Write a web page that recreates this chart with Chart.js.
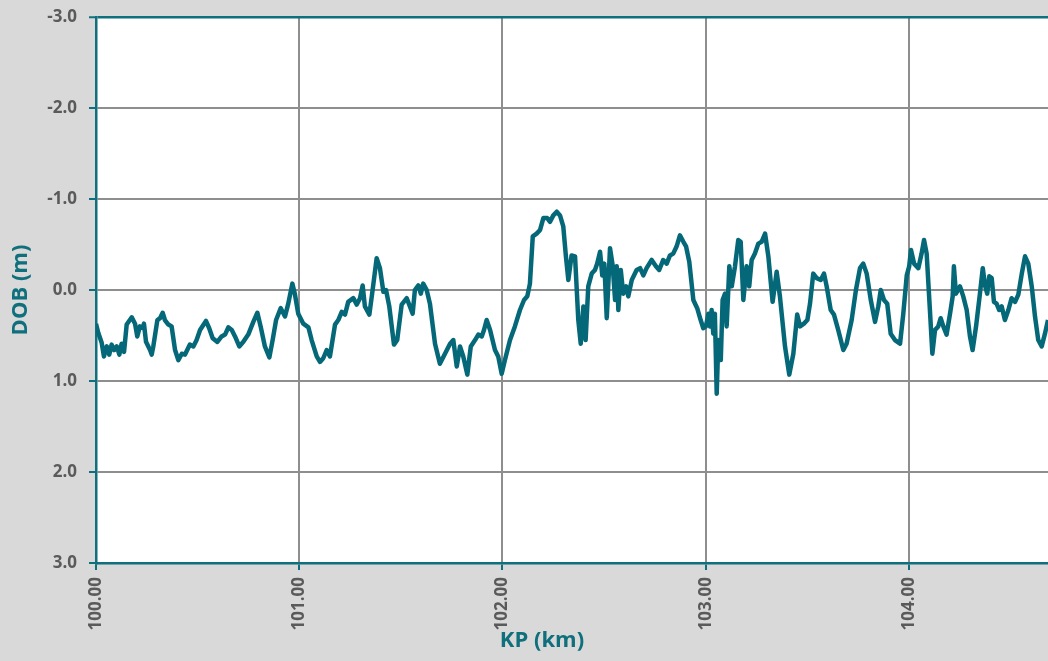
<!DOCTYPE html>
<html><head><meta charset="utf-8">
<script src="https://cdn.jsdelivr.net/npm/chart.js@4/dist/chart.umd.min.js"></script>
<style>html,body{margin:0;padding:0;background:#d9d9d9;overflow:hidden}#wrap{width:1048px;height:661px}</style>
</head><body><div id="wrap"><canvas id="c" width="1048" height="661"></canvas></div>
<script>
const kp=[100.000,100.011,100.028,100.039,100.053,100.065,100.077,100.089,100.102,100.115,
100.126,100.138,100.151,100.176,100.192,100.203,100.216,100.230,100.236,100.246,
100.266,100.274,100.282,100.302,100.315,100.328,100.339,100.356,100.372,100.389,
100.405,100.422,100.438,100.462,100.479,100.495,100.512,100.541,100.557,100.574,
100.597,100.618,100.635,100.651,100.668,100.684,100.705,100.725,100.749,100.774,
100.794,100.810,100.831,100.853,100.869,100.886,100.909,100.930,100.946,100.966,
100.979,100.995,101.020,101.045,101.061,101.086,101.102,101.118,101.135,101.151,
101.176,101.192,101.209,101.225,101.241,101.266,101.283,101.299,101.312,101.323,
101.345,101.361,101.381,101.397,101.414,101.427,101.443,101.466,101.482,101.504,
101.529,
101.558,101.569,101.586,101.598,101.610,101.627,101.643,101.668,101.692,101.717,
101.742,101.758,101.775,101.791,101.807,101.827,101.844,101.865,101.881,101.898,
101.909,101.922,101.939,101.963,101.979,101.996,102.012,102.037,102.061,102.086,
102.106,102.122,102.135,102.149,102.168,102.185,102.201,102.220,102.234,102.250,
102.267,102.283,102.299,102.312,102.324,102.340,102.357,102.373,102.385,102.398,
102.409,102.422,102.439,102.455,102.466,102.480,102.491,102.501,102.513,102.529,
102.542,102.554,102.562,102.570,102.582,102.594,102.608,102.619,102.636,102.660,
102.677,102.693,102.709,102.734,102.755,102.771,102.791,102.808,102.824,102.840,
102.857,102.873,102.890,102.903,102.919,102.939,102.958,102.975,102.988,103.001,
103.013,103.021,103.029,103.037,103.045,103.054,103.062,103.074,103.083,103.095,
103.103,103.116,103.128,103.144,103.160,
103.172,103.185,103.201,103.214,103.226,103.242,103.259,103.275,103.292,103.308,
103.329,103.349,103.365,103.390,103.411,103.431,103.450,103.464,103.483,103.500,
103.513,103.529,103.546,103.566,103.582,103.595,103.615,103.631,103.652,103.677,
103.693,103.718,103.739,103.759,103.775,103.792,103.812,103.833,103.849,103.861,
103.877,103.893,103.910,103.931,103.956,103.972,103.989,104.001,104.010,104.025,
104.046,104.062,104.074,104.087,104.103,104.115,104.128,104.144,104.156,104.169,
104.185,104.202,104.215,104.221,104.231,104.251,104.267,104.284,104.300,104.313,
104.330,104.349,104.363,104.374,104.385,104.395,104.407,104.418,104.431,104.444,
104.456,104.472,104.489,104.505,104.522,104.538,104.555,104.571,104.587,104.604,
104.620,104.636,104.653,104.669,104.684,104.700];
const dob=[0.37,0.47,0.58,0.73,0.62,0.71,0.60,0.66,0.62,0.71,
0.59,0.68,0.38,0.30,0.37,0.51,0.40,0.42,0.37,0.57,
0.66,0.71,0.62,0.33,0.31,0.25,0.33,0.38,0.40,0.66,
0.77,0.70,0.71,0.60,0.62,0.55,0.44,0.34,0.42,0.53,
0.57,0.51,0.49,0.41,0.44,0.51,0.62,0.57,0.49,0.35,
0.25,0.40,0.62,0.74,0.55,0.33,0.20,0.29,0.15,-0.07,
0.05,0.26,0.37,0.41,0.55,0.73,0.79,0.75,0.66,0.73,
0.38,0.33,0.24,0.27,0.13,0.09,0.16,0.09,-0.05,0.18,
0.27,0.00,-0.35,-0.24,0.02,0.00,0.18,0.60,0.55,0.16,
0.09,
0.26,0.00,-0.05,0.04,-0.07,0.00,0.15,0.59,0.81,0.70,
0.59,0.55,0.84,0.62,0.73,0.93,0.62,0.55,0.49,0.51,
0.44,0.33,0.44,0.66,0.73,0.92,0.77,0.55,0.40,0.22,
0.11,0.07,-0.07,-0.59,-0.62,-0.66,-0.79,-0.79,-0.75,-0.82,
-0.86,-0.82,-0.70,-0.37,-0.11,-0.38,-0.37,0.33,0.59,0.18,
0.55,-0.04,-0.18,-0.22,-0.29,-0.42,-0.16,-0.29,0.31,-0.46,
-0.27,0.11,-0.26,0.22,-0.22,0.04,-0.04,0.07,-0.11,-0.22,
-0.24,-0.16,-0.24,-0.33,-0.26,-0.22,-0.33,-0.29,-0.38,-0.40,
-0.48,-0.60,-0.53,-0.48,-0.31,0.11,0.20,0.33,0.42,0.40,
0.26,0.40,0.22,0.48,0.26,1.14,0.55,0.77,0.11,0.04,
0.40,-0.26,-0.04,-0.26,-0.55,
-0.53,0.11,-0.26,-0.04,-0.33,-0.40,-0.51,-0.53,-0.62,-0.37,
0.13,-0.20,0.07,0.62,0.93,0.70,0.27,0.40,0.37,0.33,
0.15,-0.18,-0.13,-0.11,-0.18,-0.04,0.22,0.27,0.44,0.66,
0.59,0.33,0.00,-0.24,-0.29,-0.18,0.11,0.35,0.18,0.00,
0.11,0.15,0.48,0.55,0.59,0.26,-0.16,-0.26,-0.44,-0.29,
-0.24,-0.40,-0.55,-0.40,0.22,0.70,0.44,0.40,0.31,0.40,
0.49,0.26,0.07,-0.26,0.04,-0.04,0.07,0.22,0.51,0.66,
0.40,0.04,-0.24,-0.05,0.04,-0.15,-0.13,0.13,0.15,0.22,
0.18,0.33,0.22,0.09,0.13,0.05,-0.18,-0.37,-0.29,-0.04,
0.29,0.55,0.62,0.48,0.33,0.20];
const xTicks=[100,101,102,103,104];
const yTicks=[-3,-2,-1,0,1,2,3];
const xTitle='KP (km)';
const yTitle='DOB (m)';

const TEAL='#0f6f7d', GRID='#8e8e8e', LINE='#056878', TICKTXT='#5a5a5a';
const FONT='"Open Sans", "Liberation Sans", sans-serif';

const bgPlugin={id:'bg',
  beforeDraw(chart){const {ctx,chartArea:a}=chart;ctx.save();ctx.fillStyle='#ffffff';ctx.fillRect(a.left,a.top,a.right-a.left,a.bottom-a.top);ctx.restore();},
  afterDraw(chart){const {ctx}=chart;ctx.save();ctx.fillStyle=TEAL;ctx.font='bold 22px '+FONT;ctx.textAlign='center';ctx.textBaseline='middle';ctx.fillText(xTitle,542,641);ctx.restore();}
};

new Chart(document.getElementById('c'),{
  type:'line',
  data:{datasets:[{data:kp.map((x,i)=>({x:x,y:dob[i]})),borderColor:LINE,borderWidth:4.5,pointRadius:0,tension:0,fill:false,borderJoinStyle:'round'}]},
  options:{
    responsive:false,animation:false,devicePixelRatio:1,
    layout:{padding:{top:17,right:0,bottom:0,left:0}},
    plugins:{legend:{display:false},tooltip:{enabled:false}},
    scales:{
      x:{type:'linear',min:100,max:104.684,
        afterBuildTicks:s=>{s.ticks=xTicks.map(v=>({value:v}));},
        afterFit:s=>{s.height=98;s.paddingLeft=0;s.paddingRight=0;},
        ticks:{autoSkip:false,maxRotation:90,minRotation:90,padding:7,color:TICKTXT,font:{family:FONT,size:17,weight:'bold'},callback:v=>Number(v).toFixed(2)},
        grid:{color:c=>c.tick&&c.tick.value===100?TEAL:GRID,lineWidth:2,tickLength:7,tickColor:TEAL,tickWidth:2},
        border:{color:TEAL,width:2.5}
      },
      y:{type:'linear',reverse:true,min:-3,max:3,
        afterBuildTicks:s=>{s.ticks=yTicks.map(v=>({value:v}));},
        afterFit:s=>{s.width=96;s.paddingTop=0;s.paddingBottom=0;},
        ticks:{padding:12,color:TICKTXT,font:{family:FONT,size:17,weight:'bold'},callback:v=>Number(v).toFixed(1)},
        grid:{color:c=>c.tick&&(c.tick.value===-3||c.tick.value===3)?TEAL:GRID,lineWidth:c=>c.tick&&c.tick.value===-3?2.5:2,tickLength:7,tickColor:TEAL,tickWidth:2},
        border:{color:TEAL,width:2.5},
        title:{display:true,text:yTitle,color:TEAL,font:{family:FONT,size:22,weight:'bold'},padding:{top:8,bottom:0}}
      }
    }
  },
  plugins:[bgPlugin]
});
</script></body></html>
